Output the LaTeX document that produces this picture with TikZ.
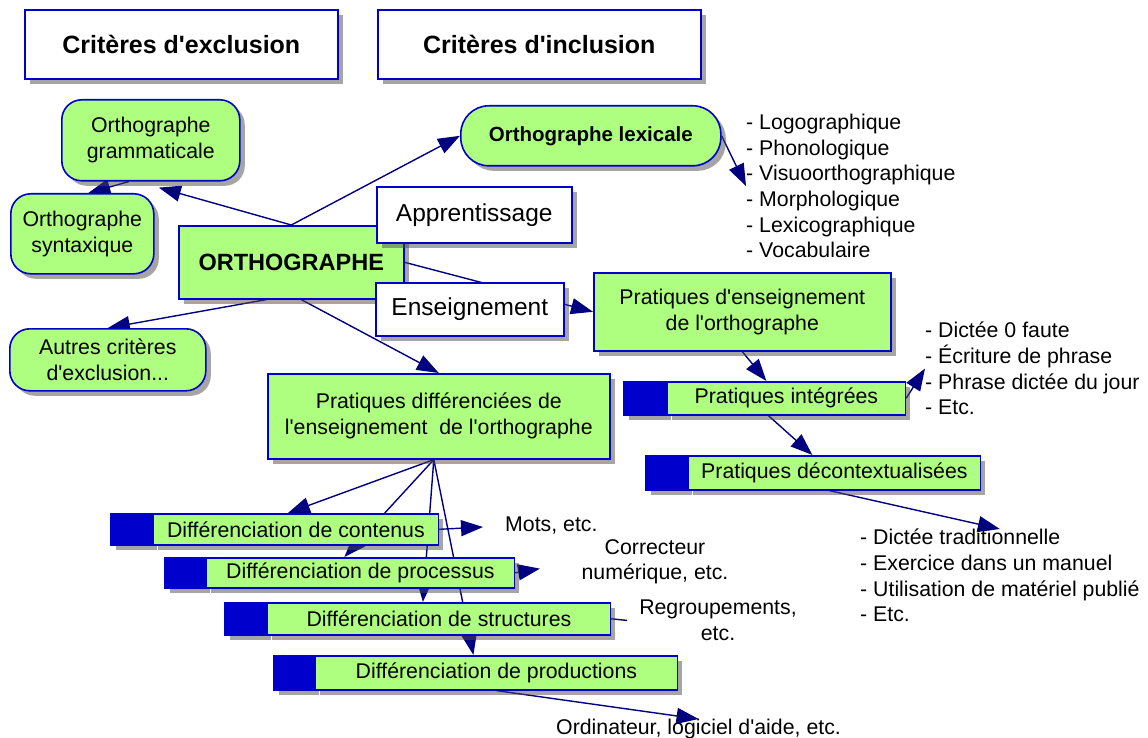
\documentclass[tikz,border=0pt]{standalone}
\usepackage{fontspec}
\setmainfont{Liberation Sans}[Ligatures=TeXOff]
\usetikzlibrary{arrows.meta,shadows,backgrounds}

\definecolor{boxgreen}{RGB}{174,255,128}
\definecolor{boxblue}{RGB}{0,0,205}
\definecolor{linkblue}{RGB}{0,0,128}

\tikzset{
  shad/.style={drop shadow={shadow xshift=5pt,shadow yshift=-5pt,fill=black!70,opacity=.5}},
  grn/.style={shad,draw=boxblue,fill=boxgreen,line width=1.6pt,inner sep=0pt,align=center,
    font=\fontsize{21.3}{26}\selectfont},
  wbox/.style={grn,fill=white},
  rbox/.style={grn,rounded corners=20pt},
  blk/.style={shad,draw=boxblue,fill=boxblue,line width=1.6pt,inner sep=0pt},
  lst/.style={inner sep=0pt,align=left,font=\fontsize{21.3}{25.6}\selectfont},
  link/.style={draw=linkblue,line width=1.4pt,-{Triangle[length=22pt,width=16pt]}}
}

\begin{document}
\begin{tikzpicture}[x=1pt,y=-1pt]
\useasboundingbox (0,0) rectangle (1148,738);

% headers
\node [wbox,anchor=north west,minimum width=313pt,minimum height=69pt,font=\fontsize{25}{30}\selectfont\bfseries](excl) at (24,9) {Critères d'exclusion};
\node [wbox,anchor=north west,minimum width=323pt,minimum height=69pt,font=\fontsize{25}{30}\selectfont\bfseries](incl) at (377,9) {Critères d'inclusion};

% left side
\node [rbox,anchor=north west,minimum width=178pt,minimum height=81pt](gram)   at (61,99)  {Orthographe\\grammaticale};
\node [rbox,anchor=north west,minimum width=143pt,minimum height=80pt](synt)   at (10,193) {Orthographe\\syntaxique};
\node [rbox,anchor=north west,minimum width=196pt,minimum height=62pt](autres) at (9,328)  {Autres critères\\d'exclusion...};
\node [grn,anchor=north west,minimum width=225pt,minimum height=73pt,font=\fontsize{23.5}{28}\selectfont\bfseries](ortho) at (178,225) {ORTHOGRAPHE};

% top right
\node [rbox,rounded corners=28pt,anchor=north west,minimum width=260pt,minimum height=60pt,font=\fontsize{20.5}{26}\selectfont\bfseries](lex) at (460,105) {Orthographe lexicale};
\node [lst,anchor=north west](lexlist) at (746,114) {- Logographique\\- Phonologique\\- Visuoorthographique\\- Morphologique\\- Lexicographique\\- Vocabulaire};
\node [wbox,anchor=north west,minimum width=195pt,minimum height=56pt,font=\fontsize{24.5}{30}\selectfont](appr) at (376,186) {Apprentissage};
\node [wbox,anchor=north west,minimum width=188pt,minimum height=53pt,font=\fontsize{24.5}{30}\selectfont](ens)  at (375,282) {Enseignement};

% integrated practices
\node [grn,anchor=north west,minimum width=297pt,minimum height=78pt](pens) at (593,272) {Pratiques d'enseignement\\de l'orthographe};
\node [blk,anchor=north west,minimum width=42pt,minimum height=33pt](pint0) at (623,381) {};
\node [grn,anchor=north west,minimum width=238pt,minimum height=33pt](pint) at (pint0.north east) {Pratiques intégrées};
\node [lst,anchor=north west](intlist) at (925,322) {- Dictée 0 faute\\- Écriture de phrase\\- Phrase dictée du jour\\- Etc.};
\node [blk,anchor=north west,minimum width=41pt,minimum height=34pt](pdec0) at (645,455) {};
\node [grn,anchor=north west,minimum width=292pt,minimum height=34pt](pdec) at (pdec0.north east) {Pratiques décontextualisées};
\node [lst,anchor=north west](declist) at (860,529) {- Dictée traditionnelle\\- Exercice dans un manuel\\- Utilisation de matériel publié\\- Etc.};

% differentiated practices
\node [grn,anchor=north west,minimum width=342pt,minimum height=85pt](pdiff) at (267,373) {Pratiques différenciées de\\l'enseignement~ de l'orthographe};
\node [blk,anchor=north west,minimum width=41pt,minimum height=31pt](dcont0) at (110,513) {};
\node [grn,anchor=north west,minimum width=285pt,minimum height=31pt](dcont) at (dcont0.north east) {Différenciation de contenus};
\node [blk,anchor=north west,minimum width=40pt,minimum height=30pt](dproc0) at (164,557) {};
\node [grn,anchor=north west,minimum width=308pt,minimum height=30pt](dproc) at (dproc0.north east) {Différenciation de processus};
\node [blk,anchor=north west,minimum width=41pt,minimum height=32pt](dstr0) at (224,602) {};
\node [grn,anchor=north west,minimum width=343pt,minimum height=32pt](dstr) at (dstr0.north east) {Différenciation de structures};
\node [blk,anchor=north west,minimum width=40pt,minimum height=34pt](dprod0) at (273,655) {};
\node [grn,anchor=north west,minimum width=362pt,minimum height=34pt](dprod) at (dprod0.north east) {Différenciation de productions};

\node [lst,anchor=north west](mots) at (505,517) {Mots, etc.};
\node [lst,align=center,anchor=north](corr) at (655,539) {Correcteur\\numérique, etc.};
\node [lst,align=center,anchor=north](regr) at (718,600) {Regroupements,\\etc.};
\node [lst,anchor=north west](ordi) at (556,719) {Ordinateur, logiciel d'aide, etc.};

\begin{scope}[on background layer]
\draw [link] (ortho.north)--([xshift=8pt,yshift=-6pt]gram.south);
\draw [link] ([xshift=-22pt]gram.south)--([xshift=6pt]synt.north);
\draw [link] (ortho.north)--(lex.west);
\draw [link] (lex.east)--(lexlist.west);
\draw [link] (ortho.east)--(pens.west);
\draw [link] ([xshift=-25pt]ortho.south)--(autres.north);
\draw [link] ([xshift=10pt]ortho.south)--(pdiff.north);
\draw [link] (pens.south)--([xshift=-20pt]pint.north);
\draw [link] (pint.east)--(intlist.west);
\draw [link] ([xshift=-18pt]pint.south)--([xshift=-22pt]pdec.north);
\draw [link] ([xshift=-5pt]pdec.south)--(declist.north);
\draw [link] ([xshift=-5pt]pdiff.south)--([xshift=-8pt]dcont.north);
\draw [link] ([xshift=-5pt]pdiff.south)--([xshift=-16pt]dproc.north);
\draw [link] ([xshift=-5pt]pdiff.south)--([xshift=-16pt]dstr.north);
\draw [link] ([xshift=-5pt]pdiff.south)--([xshift=-23pt]dprod.north);
\draw [link,shorten >=22pt] (dcont.east)--(mots.west);
\draw [link,shorten >=42pt] (dproc.east)--(corr.west);
\draw [link,-] (dstr.east)--([xshift=-12pt]regr.west);
\draw [link] (dprod.south)--(ordi.north);
\end{scope}

\end{tikzpicture}
\end{document}
